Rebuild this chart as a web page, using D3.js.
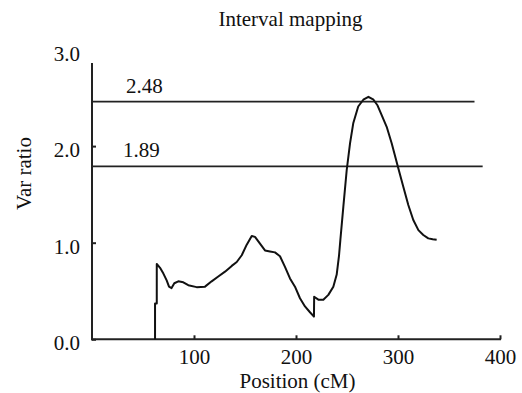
<!DOCTYPE html>
<html>
<head>
<meta charset="utf-8">
<script src="https://cdn.jsdelivr.net/npm/d3@7"></script>
<style>
  html, body { margin: 0; padding: 0; background: #fff; }
  svg { display: block; }
  text { font-family: "Liberation Serif", "Times New Roman", serif; fill: #111; }
</style>
</head>
<body>
<svg id="chart" width="522" height="393"></svg>
<script>
// ---- data ----
const title = "Interval mapping";
const xLabel = "Position (cM)";
const yLabel = "Var ratio";
const xTicks = [100, 200, 300, 400];
const yTicks = [0, 1, 2, 3];

// position (cM)
const positions = [
  61.8, 61.8, 63.5, 63.5, 66.7, 70, 73.2, 75.5, 78, 80.7,
  84.6, 89.5, 94.4, 102.6, 110.8, 117.3, 123.8, 130.4, 137, 141.9,
  146.8, 151.7, 156.6, 159.8, 164.7, 169.6, 174.5, 179.4, 184.3, 189.2,
  194.1, 199, 203.9, 208.8, 213.7, 217.6, 217.8, 221.9, 226.8, 231.7,
  236.6, 239.9, 242.2, 243.5, 246.4, 249.7, 253, 256.2, 261, 266,
  271, 276, 280, 284, 288.9, 293.8, 300.3, 305.2, 310.1, 315,
  320, 324.8, 329.7, 334, 337.9
];
// var ratio at each position
const varRatio = [
  0, 0.37, 0.37, 0.78, 0.74, 0.68, 0.61, 0.545, 0.53, 0.58,
  0.60, 0.59, 0.56, 0.54, 0.545, 0.60, 0.65, 0.70, 0.76, 0.80,
  0.87, 0.98, 1.07, 1.06, 0.99, 0.92, 0.91, 0.90, 0.86, 0.75,
  0.63, 0.545, 0.425, 0.34, 0.28, 0.235, 0.44, 0.41, 0.41, 0.46,
  0.545, 0.67, 0.87, 1.03, 1.37, 1.75, 2.03, 2.24, 2.41, 2.48,
  2.51, 2.48, 2.42, 2.32, 2.2, 2.03, 1.77, 1.58, 1.39, 1.235,
  1.13, 1.08, 1.045, 1.035, 1.03
];

// threshold lines: label, drawn level, end position
const thresholdLabels = ["2.48", "1.89"];
const thresholdLevels = [2.46, 1.79];
const thresholdEnds = [375, 383];

// ---- drawing ----
const FS = 21;
const svg = d3.select("#chart");
const x = d3.scaleLinear().domain([0, 400]).range([92, 500]);
const y = d3.scaleLinear().domain([0, 3]).range([339.3, 49.5]);
const axisTop = 2.86;

// title
svg.append("text")
  .attr("x", 290.5).attr("y", 26)
  .attr("text-anchor", "middle")
  .attr("font-size", FS)
  .text(title);

// x axis
const gx = svg.append("g")
  .attr("transform", `translate(0,${y(0)})`)
  .call(d3.axisBottom(x).tickValues(xTicks).tickSizeInner(-4).tickSizeOuter(0).tickPadding(10)
        .tickFormat(d3.format("d")));
gx.select(".domain").remove();
gx.selectAll(".tick line").attr("stroke", "#222").attr("stroke-width", 2);
gx.selectAll(".tick text").attr("font-size", FS).attr("font-family", "Liberation Serif").attr("fill", "#111");
gx.append("line")
  .attr("x1", x(0) - 1).attr("x2", x(400) + 1)
  .attr("y1", 0).attr("y2", 0)
  .attr("stroke", "#222").attr("stroke-width", 2);

// y axis
const gy = svg.append("g")
  .attr("transform", `translate(${x(0)},0)`)
  .call(d3.axisLeft(y).tickValues(yTicks).tickSizeInner(-4).tickSizeOuter(0).tickPadding(12)
        .tickFormat(d3.format(".1f")));
gy.select(".domain").remove();
gy.selectAll(".tick line")
  .attr("stroke", "#222").attr("stroke-width", 2)
  .attr("display", d => d > axisTop ? "none" : null);
gy.selectAll(".tick text")
  .attr("font-size", FS).attr("font-family", "Liberation Serif").attr("fill", "#111")
  .attr("dy", "0.5em");
gy.append("line")
  .attr("x1", 0).attr("x2", 0)
  .attr("y1", y(0) + 1).attr("y2", y(axisTop))
  .attr("stroke", "#222").attr("stroke-width", 2);

// axis labels
svg.append("text")
  .attr("x", 297.5).attr("y", 388)
  .attr("text-anchor", "middle")
  .attr("font-size", FS)
  .text(xLabel);
svg.append("text")
  .attr("transform", `translate(31,173.5) rotate(-90)`)
  .attr("text-anchor", "middle")
  .attr("font-size", FS)
  .text(yLabel);

// threshold lines
thresholdLevels.forEach((lv, i) => {
  svg.append("line")
    .attr("x1", x(0)).attr("x2", x(thresholdEnds[i]))
    .attr("y1", y(lv)).attr("y2", y(lv))
    .attr("stroke", "#222").attr("stroke-width", 1.6);
  svg.append("text")
    .attr("x", x(0) + 34 - i * 3).attr("y", y(lv) - 9)
    .attr("font-size", FS)
    .text(thresholdLabels[i]);
});

// curve
const data = positions.map((p, i) => ({ p, v: varRatio[i] }));
svg.append("path")
  .datum(data)
  .attr("fill", "none")
  .attr("stroke", "#111")
  .attr("stroke-width", 2)
  .attr("stroke-linejoin", "round")
  .attr("d", d3.line().x(d => x(d.p)).y(d => y(d.v)));
</script>
</body>
</html>
